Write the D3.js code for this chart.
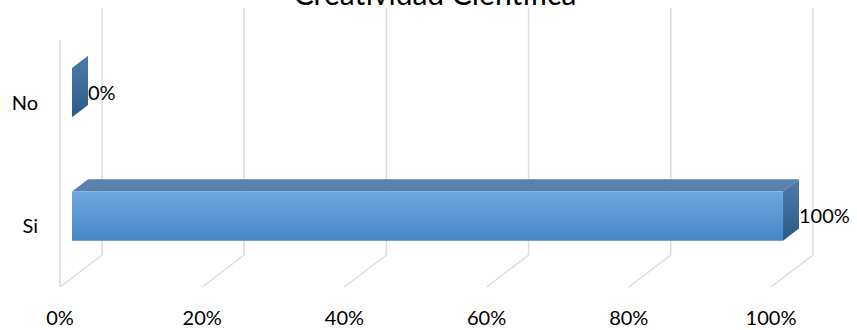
<!DOCTYPE html>
<html><head><meta charset="utf-8">
<script src="https://cdn.jsdelivr.net/npm/d3@7"></script>
<style>body{margin:0;background:#fff}svg{display:block}</style>
</head><body><svg id="c" width="857" height="330"></svg>
<script>
const title = "Creatividad Científica";
const categories = ["No", "Si"];
const values = [0, 1.0];
const valueLabels = ["0%", "100%"];
const tickValues = [0, 0.2, 0.4, 0.6, 0.8, 1.0];
const tickLabels = ["0%", "20%", "40%", "60%", "80%", "100%"];

const svg = d3.select("#c");
const font = "Lato, 'Open Sans', sans-serif";
const DX = 42, DY = -32;           // depth offset
const zF = 0.286, zB = 0.667;      // bar depth range
const x = d3.scaleLinear().domain([0, 1]).range([60, 771]);
const y = d3.scaleBand().domain(categories).range([40, 287]).paddingInner(0.6).paddingOuter(0.3);
const P = (v, yy, z) => [x(v) + z * DX, yy + z * DY];
const top0 = 40, bot0 = 287;

const defs = svg.append("defs");
const gf = defs.append("linearGradient").attr("id", "gFront").attr("x1", 0).attr("y1", 0).attr("x2", 0).attr("y2", 1);
gf.append("stop").attr("offset", "0%").attr("stop-color", "#6ea8de");
gf.append("stop").attr("offset", "100%").attr("stop-color", "#4785c6");
const gs = defs.append("linearGradient").attr("id", "gSide").attr("x1", 0).attr("y1", 0).attr("x2", 0).attr("y2", 1);
gs.append("stop").attr("offset", "0%").attr("stop-color", "#4d7cab");
gs.append("stop").attr("offset", "100%").attr("stop-color", "#2d5b88");

const grid = "#d9dde6";
const line = d3.line();
// back wall gridlines
tickValues.forEach(t => {
  svg.append("path").attr("d", line([P(t, top0, 1), P(t, bot0, 1)]))
    .attr("stroke", grid).attr("stroke-width", 1.5).attr("fill", "none");
  svg.append("path").attr("d", line([P(t, bot0, 1), P(t, bot0, 0)]))
    .attr("stroke", grid).attr("stroke-width", 1.5).attr("fill", "none");
});
// left wall front edge
svg.append("path").attr("d", line([P(0, top0, 0), P(0, bot0, 0)]))
  .attr("stroke", grid).attr("stroke-width", 1.5).attr("fill", "none");

// bars
categories.forEach((c, i) => {
  const v = values[i];
  const y0 = y(c), y1 = y(c) + y.bandwidth();
  const poly = pts => "M" + pts.map(p => p.join(",")).join("L") + "Z";
  if (v > 0) {
    svg.append("path").attr("d", poly([P(0, y0, zF), P(v, y0, zF), P(v, y0, zB), P(0, y0, zB)]))
      .attr("fill", "#5a81ab");
    svg.append("path").attr("d", poly([P(0, y0, zF), P(v, y0, zF), P(v, y1, zF), P(0, y1, zF)]))
      .attr("fill", "url(#gFront)");
  }
  svg.append("path").attr("d", poly([P(v, y0, zF), P(v, y0, zB), P(v, y1, zB), P(v, y1, zF)]))
    .attr("fill", "url(#gSide)");
  const lp = P(v, (y0 + y1) / 2, zB);
  svg.append("text").attr("x", lp[0]).attr("y", (y0 + y1) / 2 + (zF * DY))
    .attr("dy", "0.35em").attr("font-family", font).attr("font-size", 20).attr("fill", "#000")
    .text(valueLabels[i]);
  svg.append("text").attr("x", 38).attr("y", (y0 + y1) / 2 + zF * DY + 10)
    .attr("dy", "0.35em").attr("text-anchor", "end").attr("font-family", font)
    .attr("font-size", 20).attr("fill", "#000").text(c);
});

tickValues.forEach((t, i) => {
  svg.append("text").attr("x", x(t)).attr("y", 318).attr("dy", "0.35em")
    .attr("text-anchor", "middle").attr("font-family", font).attr("font-size", 20)
    .attr("fill", "#000").text(tickLabels[i]);
});

// title (partially cut off at top, as in the reference)
svg.append("text").attr("x", 435).attr("y", 5).attr("text-anchor", "middle")
  .attr("font-family", font).attr("font-size", 30).attr("fill", "#000").text(title);
</script></body></html>
